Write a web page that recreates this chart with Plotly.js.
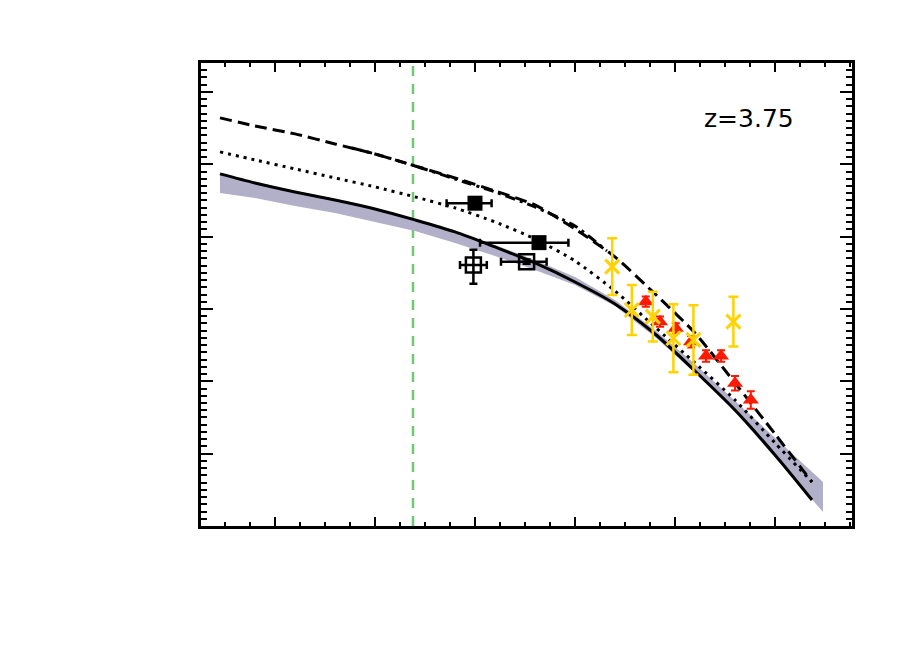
<!DOCTYPE html>
<html>
<head>
<meta charset="utf-8">
<script src="https://cdn.plot.ly/plotly-3.0.1.min.js"></script>
<style>html,body{margin:0;padding:0;background:#fff;}#chart{width:913px;height:653px;}</style>
</head>
<body>
<div id="chart"></div>
<script>
// ---- model curves (log M*, log Phi) ----
const gridX = [8.225, 8.4, 8.6, 8.8, 9.0, 9.2, 9.4, 9.6, 9.8, 10.0, 10.2, 10.4, 10.6, 10.8, 11.0, 11.185];
const solidY = [-1.133, -1.258, -1.382, -1.493, -1.617, -1.769, -1.935, -2.143, -2.364, -2.627, -2.931, -3.346, -3.857, -4.397, -5.018, -5.641];
const dottedY = [-0.829, -0.940, -1.064, -1.189, -1.313, -1.451, -1.603, -1.797, -2.032, -2.336, -2.751, -3.249, -3.746, -4.258, -4.852, -5.392];
const dashedY = [-0.359, -0.470, -0.580, -0.719, -0.857, -1.023, -1.189, -1.368, -1.562, -1.894, -2.281, -2.792, -3.332, -4.023, -4.728, -5.392];

const dashDotX = [8.885, 9.0, 9.2, 9.4, 9.6, 9.8, 10.0, 10.16];
const dashDotY = [-0.774, -0.857, -1.023, -1.203, -1.382, -1.590, -1.852, -2.198];

// ---- shaded model range ----
const bandX = [8.225, 8.4, 8.6, 8.8, 9.0, 9.2, 9.4, 9.6, 9.8, 10.0, 10.2, 10.4, 10.6, 10.8, 11.0, 11.24];
const bandUpper = [-1.133, -1.258, -1.368, -1.479, -1.603, -1.756, -1.921, -2.115, -2.322, -2.557, -2.875, -3.290, -3.760, -4.272, -4.783, -5.392];
const bandLower = [-1.396, -1.465, -1.576, -1.673, -1.797, -1.921, -2.087, -2.267, -2.461, -2.668, -2.958, -3.387, -3.885, -4.424, -5.046, -5.806];

// ---- filled squares ----
const sqX = [9.50, 9.82];
const sqY = [-1.538, -2.083];
const sqXm = [0.142, 0.295];
const sqXp = [0.083, 0.147];

// ---- open squares ----
const osqX = [9.492, 9.758];
const osqY = [-2.392, -2.346];
const osqXm = [0.067, 0.128];
const osqXp = [0.067, 0.100];
const osqYp = [0.21, 0.03];
const osqYm = [0.26, 0.03];

// ---- yellow crosses ----
const crossX = [10.186, 10.284, 10.389, 10.492, 10.592, 10.792];
const crossY = [-2.415, -3.014, -3.106, -3.405, -3.428, -3.175];
const crossErr = [0.392, 0.345, 0.345, 0.47, 0.48, 0.345];

// ---- red triangles ----
const triX = [10.354, 10.425, 10.504, 10.58, 10.655, 10.73, 10.80, 10.879];
const triY = [-2.899, -3.175, -3.267, -3.452, -3.650, -3.650, -4.027, -4.258];
const triErr = [0.07, 0.07, 0.07, 0.08, 0.08, 0.08, 0.1, 0.12];

const completenessX = 9.19;
const label = 'z=3.75';

const traces = [
  {x: bandX.concat(bandX.slice().reverse()), y: bandUpper.concat(bandLower.slice().reverse()),
   type: 'scatter', mode: 'lines', fill: 'toself', fillcolor: 'rgb(178,176,200)',
   line: {width: 0, color: 'rgba(0,0,0,0)'}, hoverinfo: 'skip'},
  {x: gridX, y: dashedY, type: 'scatter', mode: 'lines',
   line: {color: 'black', width: 3, dash: '12px,6px', shape: 'spline', smoothing: 0.6}},
  {x: dashDotX, y: dashDotY, type: 'scatter', mode: 'lines',
   line: {color: 'black', width: 3, dash: '10px,5px,3px,5px', shape: 'spline', smoothing: 0.6}},
  {x: gridX, y: dottedY, type: 'scatter', mode: 'lines',
   line: {color: 'black', width: 3, dash: '3px,5px', shape: 'spline', smoothing: 0.6}},
  {x: gridX, y: solidY, type: 'scatter', mode: 'lines',
   line: {color: 'black', width: 3, shape: 'spline', smoothing: 0.8}},
  {x: sqX, y: sqY, type: 'scatter', mode: 'markers',
   marker: {symbol: 'square', size: 15, color: 'black'},
   error_x: {type: 'data', symmetric: false, array: sqXp, arrayminus: sqXm, color: 'black', thickness: 2.5, width: 4}},
  {x: osqX, y: osqY, type: 'scatter', mode: 'markers',
   marker: {symbol: 'square-open', size: 15, color: 'black', line: {width: 2.5, color: 'black'}},
   error_x: {type: 'data', symmetric: false, array: osqXp, arrayminus: osqXm, color: 'black', thickness: 2.5, width: 4},
   error_y: {type: 'data', symmetric: false, array: osqYp, arrayminus: osqYm, color: 'black', thickness: 2.5, width: 4}},
  {x: triX, y: triY, type: 'scatter', mode: 'markers',
   marker: {symbol: 'triangle-up', size: 14, color: 'rgb(255,25,0)'},
   error_y: {type: 'data', array: triErr, color: 'rgb(255,25,0)', thickness: 2, width: 4}},
  {x: crossX, y: crossY, type: 'scatter', mode: 'markers',
   marker: {symbol: 'x-thin', size: 14, color: 'rgb(255,210,0)', line: {width: 3, color: 'rgb(255,210,0)'}},
   error_y: {type: 'data', array: crossErr, color: 'rgb(255,210,0)', thickness: 2.5, width: 5}}
];

const axisCommon = {
  showline: true, linecolor: 'black', linewidth: 3, mirror: 'allticks',
  ticks: 'inside', tickcolor: 'black', tickwidth: 2, showticklabels: false,
  showgrid: false, zeroline: false
};

const layout = {
  width: 913, height: 653,
  margin: {l: 201, r: 61, t: 63, b: 127},
  paper_bgcolor: 'white', plot_bgcolor: 'white',
  showlegend: false,
  xaxis: Object.assign({}, axisCommon, {
    range: [8.13, 11.385], tick0: 8.5, dtick: 0.5, ticklen: 9,
    minor: {ticks: 'inside', dtick: 0.125, tick0: 8.5, ticklen: 4, tickwidth: 2, tickcolor: 'black', showgrid: false}
  }),
  yaxis: Object.assign({}, axisCommon, {
    range: [-6, 0.4], tick0: -6, dtick: 1, ticklen: 12,
    minor: {ticks: 'inside', dtick: 0.1, tick0: -6, ticklen: 6, tickwidth: 2, tickcolor: 'black', showgrid: false}
  }),
  shapes: [{type: 'line', xref: 'x', yref: 'paper', x0: completenessX, x1: completenessX, y0: 0, y1: 1,
            line: {color: 'rgb(112,200,112)', width: 2.5, dash: '10px,8px'}, layer: 'below'}],
  annotations: [{text: label, xref: 'paper', yref: 'paper', x: 0.842, y: 0.881,
                 xanchor: 'center', yanchor: 'middle', showarrow: false,
                 font: {family: 'DejaVu Sans', size: 25, color: 'black'}}]
};

Plotly.newPlot('chart', traces, layout, {displayModeBar: false, staticPlot: true});
</script>
</body>
</html>
